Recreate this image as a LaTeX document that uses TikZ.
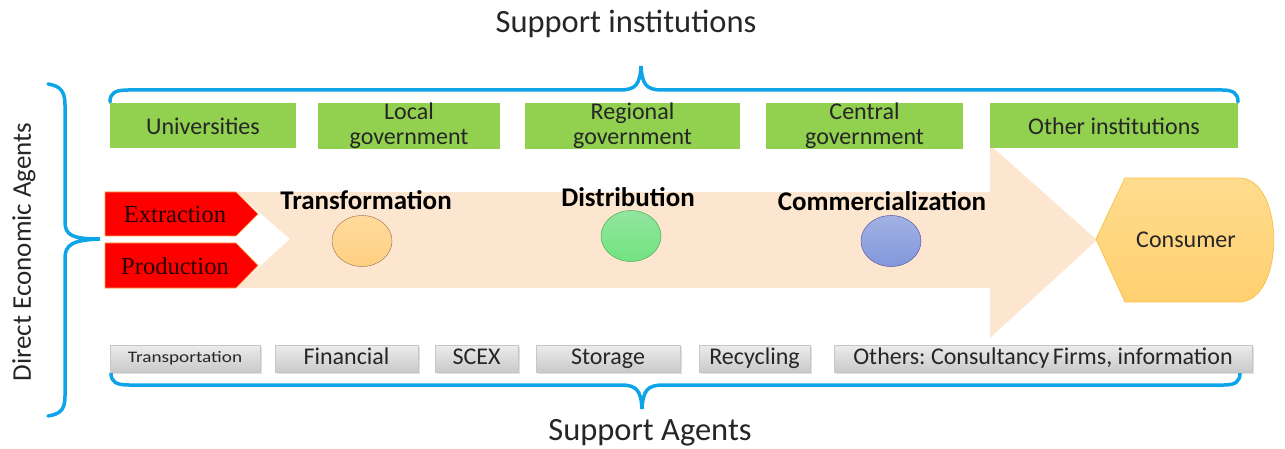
\documentclass[tikz,border=0pt]{standalone}
\usepackage{fontspec}
\usepackage{graphicx}
\setmainfont{Carlito}
\newfontfamily\redserif{Liberation Serif}
\usetikzlibrary{shadows,shapes.geometric}
\definecolor{bracec}{HTML}{0EA5E8}
\definecolor{greenbox}{HTML}{92D050}
\definecolor{peach}{HTML}{FDE6D0}
\definecolor{redfill}{HTML}{FF0000}
\definecolor{redline}{HTML}{FFA040}
\definecolor{txt}{HTML}{262626}
\definecolor{corange}{HTML}{FFD48A}
\definecolor{cgreen}{HTML}{7EE08E}
\definecolor{cblue}{HTML}{8A9FDA}
\definecolor{constop}{HTML}{FFDC8E}
\definecolor{consbot}{HTML}{FFD070}
\definecolor{consline}{HTML}{F6C44E}
\frenchspacing
\begin{document}
\begin{tikzpicture}[x=1pt,y=-1pt,
  fs/.style={font=\fontsize{#1}{30}\selectfont},
  brace/.style={draw=bracec,line width=3.5pt,line cap=round},
  greenb/.style={fill=greenbox,minimum height=45pt,inner sep=0pt,text=txt,align=center,font=\fontsize{24}{25}\selectfont},
  grayb/.style={top color=gray!15,bottom color=gray!42,draw=gray!45,line width=0.4pt,minimum height=27pt,inner sep=0pt,text height=16pt,text depth=5pt,text=txt,font=\fontsize{24}{26}\selectfont,drop shadow={shadow xshift=1.5pt,shadow yshift=-1.5pt,opacity=0.25}},
  stage/.style={font=\bfseries\fontsize{27}{29}\selectfont,text=black},
  redtxt/.style={font=\redserif\fontsize{24.5}{26}\selectfont,text=black!85!red},
  circ/.style={ellipse,line width=0.5pt,inner sep=0pt,minimum width=60pt,minimum height=51pt}
]
\useasboundingbox (0,0) rectangle (1285,449);

% big process arrow
\fill[peach] (236,192) -- (990,192) -- (990,145) -- (1097,240) -- (990,338) -- (990,288) -- (236,288) -- (290,239) -- cycle;

% titles
\node[fs=32.5,text=txt] (tsi) at (626,24) {Support institutions};
\node[fs=32.5,text=txt] (tsa) at (650,433) {Support Agents};
\node[fs=27,text=txt,rotate=90] (tdea) at (24,252) {Direct Economic Agents};

% braces
\draw[brace] (110,102) .. controls (110,93) and (115,90) .. (128,90) -- (620,90) .. controls (636,90) and (640,84) .. (641,66) .. controls (642,84) and (646,90) .. (662,90) -- (1222,90) .. controls (1234,90) and (1238,94) .. (1238,102);
\draw[brace] (111,373) .. controls (111,382) and (116,385) .. (129,385) -- (621,385) .. controls (637,385) and (641,391) .. (642,409) .. controls (643,391) and (647,385) .. (663,385) -- (1224,385) .. controls (1236,385) and (1240,381) .. (1240,373);
\draw[brace] (48,84) .. controls (61,86) and (65,92) .. (65,105) -- (65,222) .. controls (65,235) and (72,239) .. (100,239) .. controls (72,240) and (65,245) .. (65,258) -- (65,396) .. controls (65,409) and (61,414) .. (48,416);

% green institution boxes
\node[greenb,minimum width=186pt] (uni) at (203,126) {Universities};
\node[greenb,minimum width=182pt] (loc) at (409,126) {Local\\government};
\node[greenb,minimum width=215pt] (reg) at (632.5,126) {Regional\\government};
\node[greenb,minimum width=197pt] (cen) at (864.5,126) {Central\\government};
\node[greenb,minimum width=248pt] (oth) at (1114,126) {Other institutions};

% red arrows
\filldraw[fill=redfill,draw=redline,line width=0.6pt] (105,192) -- (236,192) -- (258,214) -- (236,236) -- (105,236) -- cycle;
\filldraw[fill=redfill,draw=redline,line width=0.6pt] (105,243) -- (236,243) -- (258,265.5) -- (236,288) -- (105,288) -- cycle;
\node[redtxt] (ext) at (175,215) {Extraction};
\node[redtxt] (pro) at (175,266) {Production};

% stages
\node[stage] (ltr) at (366,200) {Transformation};
\node[stage] (ldi) at (628,197) {Distribution};
\node[stage] (lco) at (882,201) {Commercialization};
\node[circ,draw=brown!55!gray,top color=corange!85!white,bottom color=corange!95!orange] (ctr) at (362,241) {};
\node[circ,draw=green!35!gray,top color=cgreen!85!white,bottom color=cgreen!90!green] (cdi) at (631,236) {};
\node[circ,draw=blue!30!gray,top color=cblue!80!white,bottom color=cblue!95!blue] (cco) at (891,241) {};

% consumer
\shade[top color=constop,bottom color=consbot,draw=consline,line width=0.8pt] (1096,239) -- (1125,178) -- (1240,178) .. controls (1285,180) and (1285,300) .. (1240,302) -- (1125,302) -- cycle;
\node[fs=24,text=txt] (con) at (1186,240) {Consumer};

% gray support agent boxes
\node[grayb,minimum width=150pt,text height=12pt,text depth=4pt] (tra) at (185,358.5) {\fontsize{16}{18}\selectfont\scalebox{1.2}[1]{Transportation}};
\node[grayb,minimum width=143pt] (fin) at (346.5,358.5) {Financial};
\node[grayb,minimum width=83pt] (sce) at (476.5,358.5) {SCEX};
\node[grayb,minimum width=144pt] (sto) at (608,358.5) {Storage};
\node[grayb,minimum width=111pt] (rec) at (754.5,358.5) {Recycling};
\node[grayb,minimum width=418pt] (oth2) at (1043,358.5) {Others: Consultancy\hspace{-2pt} Firms, information};
\end{tikzpicture}
\end{document}
